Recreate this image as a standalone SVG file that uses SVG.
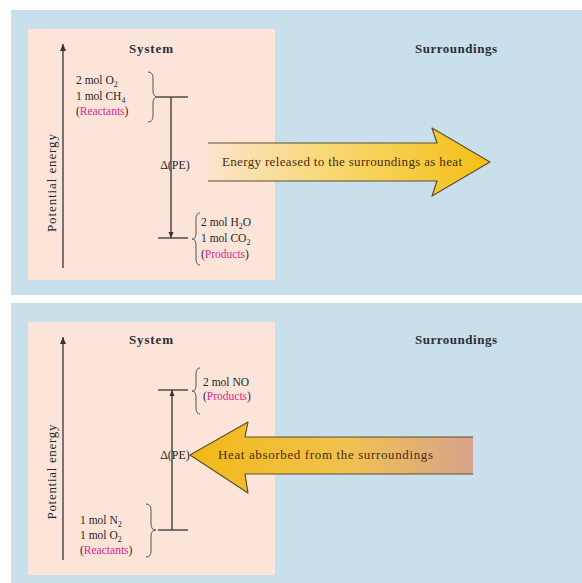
<svg xmlns="http://www.w3.org/2000/svg" width="582" height="583" viewBox="0 0 582 583">
<defs>
<style>
.bg{fill:#c9dfec}
.sys{fill:#fde4d9}
.t{font-family:"Liberation Serif","Times New Roman",serif;font-size:11.5px;fill:#262626}
.pe{font-size:13px}
.d{font-size:12px}
.h{font-family:"Liberation Serif","Times New Roman",serif;font-size:13px;font-weight:bold;fill:#2a2f38}
.m{fill:#e0268c}
.sub{font-size:8px}
.ln{stroke:#333;stroke-width:1.3;fill:none}
.br{stroke:#555;stroke-width:1;fill:none}
.ax{stroke:#333;stroke-width:1.3;fill:none}
.edge{stroke:#5a5030;stroke-width:1.2;fill:none;stroke-linejoin:round}
.at{font-family:"Liberation Serif","Times New Roman",serif;font-size:13px;fill:#4a2e0c}
</style>
<marker id="ah" markerWidth="8" markerHeight="8" refX="7" refY="4" orient="auto" markerUnits="userSpaceOnUse">
<path d="M0,1 L7,4 L0,7 Z" fill="#333"/>
</marker>
<marker id="sh" markerWidth="6" markerHeight="6" refX="6" refY="3" orient="auto" markerUnits="userSpaceOnUse">
<path d="M0,0.5 L6,3 L0,5.5 Z" fill="#333"/>
</marker>
<linearGradient id="g1" gradientUnits="userSpaceOnUse" x1="208" y1="0" x2="490" y2="0">
<stop offset="0" stop-color="#fbe4cd"/>
<stop offset="0.45" stop-color="#f8d770"/>
<stop offset="1" stop-color="#f4bf14"/>
</linearGradient>
<linearGradient id="g2" gradientUnits="userSpaceOnUse" x1="190" y1="0" x2="473" y2="0">
<stop offset="0" stop-color="#f2b915"/>
<stop offset="0.55" stop-color="#f0c24e"/>
<stop offset="1" stop-color="#d8a28c"/>
</linearGradient>
</defs>

<!-- backgrounds -->
<rect x="0" y="0" width="582" height="583" fill="#ffffff"/>
<rect class="bg" x="11" y="10" width="571" height="285"/>
<rect class="sys" x="28" y="29" width="247" height="251"/>
<rect class="bg" x="11" y="303" width="571" height="280"/>
<rect class="sys" x="28" y="322" width="247" height="253"/>

<!-- TOP PANEL -->
<g id="top-labels">
<text class="h" x="151" y="53" text-anchor="middle" textLength="44">System</text>
<text class="h" x="456" y="53" text-anchor="middle" textLength="82">Surroundings</text>
<text class="t pe" transform="translate(56,183) rotate(-90)" text-anchor="middle" textLength="98">Potential energy</text>
</g>

<g id="top-reactants">
<text class="t" x="76" y="84">2 mol O<tspan class="sub" dy="3">2</tspan></text>
<text class="t" x="76" y="100">1 mol CH<tspan class="sub" dy="3">4</tspan></text>
<text class="t" x="76" y="115">(<tspan class="m">Reactants</tspan>)</text>
<path class="br" d="M148,72 Q153,72 153,78 L153,91 Q153,97 158,97 Q153,97 153,103 L153,116 Q153,122 148,122"/>
<line class="ln" x1="158" y1="97" x2="188" y2="97"/>
</g>

<g id="top-products">
<text class="t" x="201" y="226">2 mol H<tspan class="sub" dy="3">2</tspan><tspan dy="-3">O</tspan></text>
<text class="t" x="201" y="242">1 mol CO<tspan class="sub" dy="3">2</tspan></text>
<text class="t" x="201" y="258">(<tspan class="m">Products</tspan>)</text>
<path class="br" d="M200,213 Q196,213 196,219 L196,233 Q196,239 192,239 Q196,239 196,245 L196,259 Q196,265 200,265"/>
<line class="ln" x1="158" y1="238" x2="188" y2="238"/>
</g>

<g id="top-delta">
<text class="t d" x="175" y="169" text-anchor="middle">Δ(PE)</text>
</g>

<g id="top-heat-arrow">
<polygon points="208,143 437,143 432,128 490,162 432,196 437,181 208,181" fill="url(#g1)"/>
<polyline class="edge" points="208,143 437,143 432,128 490,162 432,196 437,181 208,181"/>
<text class="at" x="222" y="166" textLength="240">Energy released to the surroundings as heat</text>
</g>

<!-- BOTTOM PANEL -->
<g id="bottom-labels">
<text class="h" x="151" y="344" text-anchor="middle" textLength="44">System</text>
<text class="h" x="456" y="344" text-anchor="middle" textLength="82">Surroundings</text>
<text class="t pe" transform="translate(56,472) rotate(-90)" text-anchor="middle" textLength="95">Potential energy</text>
</g>

<g id="bottom-products">
<text class="t" x="203" y="386">2 mol NO</text>
<text class="t" x="203" y="400">(<tspan class="m">Products</tspan>)</text>
<path class="br" d="M200,368 Q196,368 196,374 L196,385 Q196,391 192,391 Q196,391 196,397 L196,408 Q196,414 200,414"/>
<line class="ln" x1="158" y1="390" x2="188" y2="390"/>
</g>

<g id="bottom-reactants">
<text class="t" x="80" y="524">1 mol N<tspan class="sub" dy="3">2</tspan></text>
<text class="t" x="80" y="539">1 mol O<tspan class="sub" dy="3">2</tspan></text>
<text class="t" x="80" y="554">(<tspan class="m">Reactants</tspan>)</text>
<path class="br" d="M146,504 Q151,504 151,510 L151,524 Q151,530 156,530 Q151,530 151,536 L151,551 Q151,557 146,557"/>
<line class="ln" x1="158" y1="530" x2="188" y2="530"/>
</g>

<g id="bottom-delta">
<text class="t d" x="175" y="459" text-anchor="middle">Δ(PE)</text>
</g>

<g id="bottom-heat-arrow">
<polygon points="473,437 245,437 248,422 190,455 248,493 245,474 473,474" fill="url(#g2)"/>
<polyline class="edge" points="473,437 245,437 248,422 190,455 248,493 245,474 473,474"/>
<text class="at" x="218" y="459" textLength="215">Heat absorbed from the surroundings</text>
</g>

<!-- connectors -->
<g id="connectors">
<line class="ax" x1="63" y1="268" x2="63" y2="44" marker-end="url(#ah)"/>
<line class="ax" x1="63" y1="560" x2="63" y2="337" marker-end="url(#ah)"/>
<line class="ln" x1="171" y1="97" x2="171" y2="238" marker-end="url(#sh)"/>
<line class="ln" x1="172" y1="530" x2="172" y2="390" marker-end="url(#sh)"/>
</g>
</svg>
